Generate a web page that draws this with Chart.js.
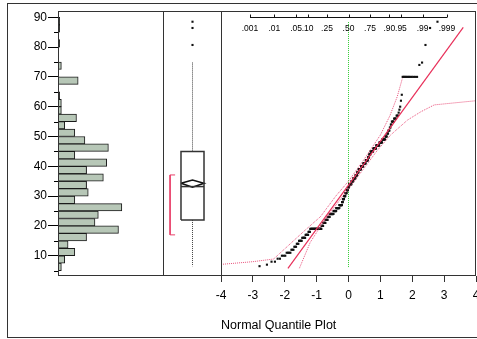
<!DOCTYPE html>
<html>
<head>
<meta charset="utf-8">
<script src="https://cdn.jsdelivr.net/npm/chart.js@4.4.0/dist/chart.umd.min.js"></script>
<style>
  html, body { margin: 0; padding: 0; background: #fff; overflow: hidden; width: 477px; height: 339px; }
  #frame { position: absolute; left: 7px; top: 3px; width: 480px; height: 335px; box-sizing: border-box; border: 1px solid #333; }
  canvas { position: absolute; top: 0; }
  #hist { left: 0; }
  #box { left: 163px; }
  #quant { left: 200px; }
  #title { position: absolute; left: 221px; top: 318px; font: 12.5px "Liberation Sans", Arial, sans-serif; color: #000; line-height: 14px; }
</style>
</head>
<body>
<div id="frame"></div>
<canvas id="hist" width="170" height="300"></canvas>
<canvas id="box" width="59" height="300"></canvas>
<canvas id="quant" width="290" height="339"></canvas>
<div id="title">Normal Quantile Plot</div>
<script>
// shared value axis
const yMin = 3.2, yMax = 92.1;

// histogram, 2.5 wide bins starting at 5
const binStart = 5, binWidth = 2.5;
const histCounts = [2, 4, 10, 6, 17, 36, 22, 24, 38, 10, 18, 17, 27, 17, 29, 10, 30, 16, 10, 4,
                    11, 2, 2, 1, 0, 12, 0, 2, 0, 0, 1, 0, 1, 1];
const yTicks = [10, 20, 30, 40, 50, 60, 70, 80, 90];
const yMinorTicks = [5, 15, 25, 35, 45, 55, 65, 75, 85];

// outlier box plot
const quartiles = [22.0, 33.2, 45.0];      // q1, median, q3
const whiskers = [6.5, 74.8];
const outliers = [80.7, 86.4, 88.5];
const meanDiamond = [33.0, 34.3, 35.4];    // lower 95%, mean, upper 95%
const shortestHalf = [17.0, 37.1];

// sorted values with their frequencies
const values = [6.5, 7, 8, 9, 10, 11, 12, 13, 14, 15, 16, 17, 18, 19,
                20, 21, 22, 23, 24, 25, 26, 27, 28, 29, 30, 31, 32, 33, 34,
                35, 36, 37, 38, 39, 40, 41, 42, 43, 44, 45, 46, 47, 48, 49,
                50, 51, 52, 53, 54, 55, 56, 57, 58, 59, 60, 62, 64, 70,
                74, 74.8, 80.7, 86.4, 88.5];
const freqs  = [1, 1, 2, 2, 3, 4, 3, 3, 3, 5, 6, 6, 4, 32,
                6, 8, 8, 8, 16, 12, 14, 12, 4, 6, 6, 6, 6, 6, 11,
                9, 10, 8, 6, 11, 10, 10, 9, 5, 5, 10, 10, 10, 8, 8,
                4, 3, 3, 2, 2, 4, 4, 3, 1, 1, 1, 1, 1, 12,
                1, 1, 1, 1, 1];

// normal fit and Lilliefors bands
const fitMean = 33.7, fitSd = 14.7;
const fitZ = [-1.9, 3.6];
const upperBandZ = [-4.0, -3.0, -2.35, -1.93, -1.41, -0.88, -0.4, 0, 0.5, 1.0, 1.3, 1.53, 1.69];
const upperBandY = [7.1, 8.0, 8.9, 13.0, 18.1, 23.1, 30.0, 35.0, 42.5, 50.5, 57.0, 63.4, 69.5];
const lowerBandZ = [-1.54, -1.2, -0.9, -0.5, 0, 0.5, 0.9, 1.32, 1.85, 2.27, 2.69, 4.0];
const lowerBandY = [5.8, 14.5, 19.5, 25.5, 32.5, 39.5, 45.3, 50.5, 55.5, 58.3, 60.6, 62.0];
const refLineY = [6.2, 88.5];

// probability axis
const probLabels = [".001", ".01", ".05", ".10", ".25", ".50", ".75", ".90", ".95", ".99", ".999"];
const probValues = [0.001, 0.01, 0.05, 0.10, 0.25, 0.50, 0.75, 0.90, 0.95, 0.99, 0.999];

const FONT = "'Liberation Sans', Arial, sans-serif";
const LINE = "#333";

// inverse standard normal cdf (Acklam)
function qnorm(p) {
  const a = [-3.969683028665376e+01, 2.209460984245205e+02, -2.759285104469687e+02, 1.383577518672690e+02, -3.066479806614716e+01, 2.506628277459239e+00];
  const b = [-5.447609879822406e+01, 1.615858368580409e+02, -1.556989798598866e+02, 6.680131188771972e+01, -1.328068155288572e+01];
  const c = [-7.784894002430293e-03, -3.223964580411365e-01, -2.400758277161838e+00, -2.549732539343734e+00, 4.374664141464968e+00, 2.938163982698783e+00];
  const d = [7.784695709041462e-03, 3.224671290700398e-01, 2.445134137142996e+00, 3.754408661907416e+00];
  const plow = 0.02425;
  let q, r;
  if (p < plow) {
    q = Math.sqrt(-2 * Math.log(p));
    return (((((c[0]*q+c[1])*q+c[2])*q+c[3])*q+c[4])*q+c[5]) / ((((d[0]*q+d[1])*q+d[2])*q+d[3])*q+1);
  }
  if (p <= 1 - plow) {
    q = p - 0.5; r = q * q;
    return (((((a[0]*r+a[1])*r+a[2])*r+a[3])*r+a[4])*r+a[5])*q / (((((b[0]*r+b[1])*r+b[2])*r+b[3])*r+b[4])*r+1);
  }
  q = Math.sqrt(-2 * Math.log(1 - p));
  return -(((((c[0]*q+c[1])*q+c[2])*q+c[3])*q+c[4])*q+c[5]) / ((((d[0]*q+d[1])*q+d[2])*q+d[3])*q+1);
}

const framePlugin = {
  id: "frame",
  afterDraw(chart) {
    const { ctx, chartArea: a } = chart;
    ctx.save();
    ctx.strokeStyle = LINE;
    ctx.lineWidth = 1;
    ctx.strokeRect(a.left + 0.5, a.top + 0.5, a.right - a.left - 1, a.bottom - a.top - 1);
    ctx.restore();
  }
};

Chart.defaults.font.family = FONT;
Chart.defaults.color = "#000";
Chart.defaults.animation = false;
Chart.defaults.plugins.legend.display = false;
Chart.defaults.plugins.tooltip.enabled = false;

// ---- histogram ----
const histData = histCounts.map((n, i) => ({ x: n, y: binStart + binWidth * (i + 0.5) }));

const minorTicks = {
  id: "minorTicks",
  afterDraw(chart) {
    const { ctx, scales: { y } } = chart;
    ctx.save();
    ctx.strokeStyle = "#000";
    ctx.beginPath();
    yMinorTicks.forEach(v => {
      const py = Math.round(y.getPixelForValue(v)) + 0.5;
      ctx.moveTo(y.right - 4, py);
      ctx.lineTo(y.right, py);
    });
    ctx.stroke();
    ctx.restore();
  }
};

new Chart(document.getElementById("hist"), {
  type: "bar",
  data: {
    datasets: [{
      data: histData,
      backgroundColor: "#b7c7b7",
      borderColor: "#1a1a1a",
      borderWidth: 1,
      barPercentage: 1,
      categoryPercentage: 1
    }]
  },
  options: {
    responsive: false,
    indexAxis: "y",
    layout: { autoPadding: false, padding: { left: 10, top: 11, right: 6, bottom: 24 } },
    scales: {
      x: { type: "linear", display: false, min: 0, max: 63.1 },
      y: {
        type: "linear",
        min: yMin, max: yMax,
        offset: false,
        afterFit: s => { s.width = 48; },
        afterBuildTicks: s => { s.ticks = yTicks.map(v => ({ value: v })); },
        ticks: { font: { size: 12 }, padding: 1, color: "#000" },
        grid: { offset: false, drawOnChartArea: false, tickLength: 10, color: "#000" },
        border: { display: false }
      }
    }
  },
  plugins: [framePlugin, minorTicks]
});

// ---- box plot ----
const boxHalf = 0.39, bracketX = -0.76, bracketSerif = -0.59;
const med = quartiles[1];
const boxOutline = [
  { x: -boxHalf, y: quartiles[0] }, { x: boxHalf, y: quartiles[0] },
  { x: boxHalf, y: quartiles[2] }, { x: -boxHalf, y: quartiles[2] },
  { x: -boxHalf, y: quartiles[0] }
];
const diamond = [
  { x: -boxHalf, y: meanDiamond[1] }, { x: 0, y: meanDiamond[2] },
  { x: boxHalf, y: meanDiamond[1] }, { x: 0, y: meanDiamond[0] },
  { x: -boxHalf, y: meanDiamond[1] }
];
const bracket = [
  { x: bracketSerif, y: shortestHalf[1] }, { x: bracketX, y: shortestHalf[1] },
  { x: bracketX, y: shortestHalf[0] }, { x: bracketSerif, y: shortestHalf[0] }
];
const lineDs = (data, color, width, dash) => ({
  data, showLine: true, borderColor: color, borderWidth: width, borderDash: dash || [],
  pointRadius: 0, fill: false, tension: 0
});

new Chart(document.getElementById("box"), {
  type: "scatter",
  data: {
    datasets: [
      lineDs(boxOutline, "#333", 1.5),
      lineDs([{ x: -boxHalf, y: med }, { x: boxHalf, y: med }], "#333", 1.5),
      lineDs(diamond, "#111", 1.5),
      lineDs([{ x: 0, y: quartiles[2] }, { x: 0, y: whiskers[1] }], "#444", 1, [1, 1]),
      lineDs([{ x: 0, y: quartiles[0] }, { x: 0, y: whiskers[0] }], "#444", 1, [1, 1]),
      lineDs(bracket, "#e8406a", 1),
      {
        data: outliers.map(v => ({ x: 0, y: v })),
        pointStyle: "rect", pointRadius: 1.5, pointBackgroundColor: "#111", pointBorderWidth: 0
      }
    ]
  },
  options: {
    responsive: false,
    layout: { autoPadding: false, padding: { left: 0, top: 11, right: 0, bottom: 24 } },
    scales: {
      x: { type: "linear", display: false, min: -1, max: 1 },
      y: { type: "linear", display: false, min: yMin, max: yMax }
    }
  },
  plugins: [framePlugin]
});

// ---- normal quantile plot ----
const sorted = [];
values.forEach((v, i) => { for (let k = 0; k < freqs[i]; k++) sorted.push(v); });
const n = sorted.length;
const qPoints = sorted.map((v, i) => ({ x: qnorm((i + 1) / (n + 1)), y: v }));
const fitLine = fitZ.map(z => ({ x: z, y: fitMean + fitSd * z }));
const upperBand = upperBandZ.map((z, i) => ({ x: z, y: upperBandY[i] }));
const lowerBand = lowerBandZ.map((z, i) => ({ x: z, y: lowerBandY[i] }));

const probAxis = {
  id: "probAxis",
  afterDatasetsDraw(chart) {
    const { ctx, scales: { x } } = chart;
    const zs = probValues.map(qnorm);
    const py = 17.5;
    ctx.save();
    ctx.strokeStyle = "#111";
    ctx.lineWidth = 1;
    ctx.beginPath();
    ctx.moveTo(x.getPixelForValue(zs[0]), py);
    ctx.lineTo(x.getPixelForValue(zs[zs.length - 1]), py);
    zs.forEach(z => {
      const px = Math.round(x.getPixelForValue(z)) + 0.5;
      ctx.moveTo(px, py);
      ctx.lineTo(px, py - 3);
    });
    ctx.stroke();
    ctx.fillStyle = "#000";
    ctx.font = "8.5px " + FONT;
    ctx.textAlign = "center";
    ctx.textBaseline = "middle";
    zs.forEach((z, i) => ctx.fillText(probLabels[i], x.getPixelForValue(z), 29));
    ctx.restore();
  }
};

new Chart(document.getElementById("quant"), {
  type: "scatter",
  data: {
    datasets: [
      lineDs(fitLine, "#e8305a", 1.2),
      lineDs(upperBand, "#e8507a", 1, [1, 1]),
      lineDs(lowerBand, "#e8507a", 1, [1, 1]),
      {
        data: qPoints,
        pointStyle: "rect", pointRadius: 1.5, pointBackgroundColor: "#111", pointBorderWidth: 0
      },
      lineDs([{ x: 0, y: refLineY[0] }, { x: 0, y: refLineY[1] }], "#33cc33", 1, [1, 1])
    ]
  },
  options: {
    responsive: false,
    layout: { autoPadding: false, padding: { left: 21, top: 11, right: 14, bottom: 0 } },
    scales: {
      x: {
        type: "linear", min: -4, max: 4,
        afterFit: s => { s.height = 339 - 276; },
        ticks: { stepSize: 1, font: { size: 12 }, padding: 6, color: "#000" },
        grid: { drawOnChartArea: false, tickLength: 6, color: LINE },
        border: { display: false }
      },
      y: { type: "linear", display: false, min: yMin, max: yMax }
    }
  },
  plugins: [framePlugin, probAxis]
});
</script>
</body>
</html>
